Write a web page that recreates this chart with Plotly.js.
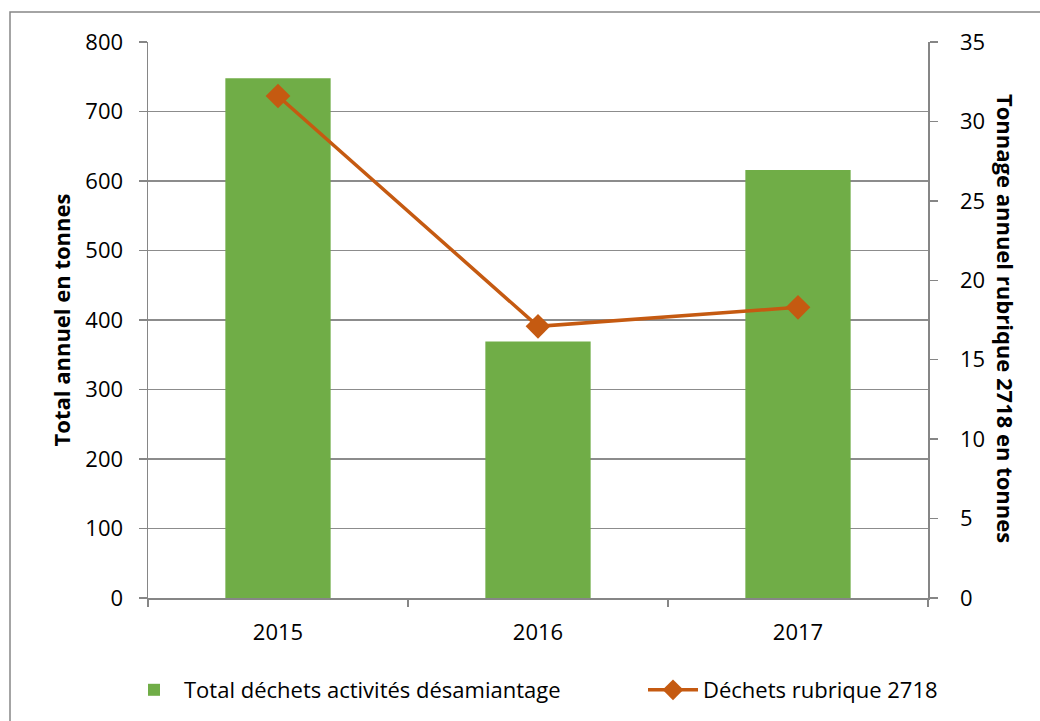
<!DOCTYPE html>
<html><head><meta charset="utf-8">
<script src="https://cdn.plot.ly/plotly-3.0.1.min.js"></script>
<style>html,body{margin:0;padding:0;background:#fff}#c{width:1040px;height:721px}</style>
</head><body><div id="c"></div>
<script>
const years = ['2015', '2016', '2017'];
const totalDesamiantage = [748, 369, 616];
const rubrique2718 = [31.6, 17.1, 18.3];
const leftTicks = [0, 100, 200, 300, 400, 500, 600, 700, 800];
const rightTicks = [0, 5, 10, 15, 20, 25, 30, 35];

const font = 'Open Sans, Liberation Sans, sans-serif';
const FS = 22;
const idx = years.map((_, i) => i);

const traces = [
  {type: 'bar', name: 'Total déchets activités désamiantage', x: idx, y: totalDesamiantage,
   marker: {color: '#70AD47'}, width: 0.405, xaxis: 'x', yaxis: 'y', legend: 'legend'},
  {type: 'scatter', mode: 'lines+markers', name: 'Déchets rubrique 2718', x: idx, y: rubrique2718,
   line: {color: '#C55A11', width: 3.5}, marker: {symbol: 'diamond', size: 19, color: '#C55A11'},
   xaxis: 'x', yaxis: 'y2', legend: 'legend2'}
];

const legendY = (598 - 690) / 556;
const layout = {
  width: 1040, height: 721,
  margin: {l: 148, r: 112, t: 42, b: 123, autoexpand: false},
  paper_bgcolor: '#fff', plot_bgcolor: '#fff',
  font: {family: font, size: FS, color: '#000'},
  showlegend: true,
  legend: {orientation: 'h', x: (124 - 148) / 780, xanchor: 'left', y: legendY, yanchor: 'middle',
           font: {size: FS}, itemwidth: 50},
  legend2: {orientation: 'h', x: (643 - 148) / 780, xanchor: 'left', y: legendY, yanchor: 'middle',
            font: {size: FS}, itemwidth: 50},
  xaxis: {range: [-0.5, 2.5], tickmode: 'array', tickvals: idx, ticktext: years,
          ticks: '', showgrid: false, zeroline: false, showline: true, linecolor: '#868686', linewidth: 1.5,
          tickfont: {size: FS}, ticklabelstandoff: 14},
  xaxis2: {overlaying: 'x', matches: 'x', range: [-0.5, 2.5], tickmode: 'array',
           tickvals: [-0.5, 0.5, 1.5, 2.5], showticklabels: false, ticks: 'outside', ticklen: 8,
           tickcolor: '#868686', tickwidth: 1.5, showgrid: false, zeroline: false, side: 'bottom', anchor: 'y'},
  yaxis: {range: [0, 800], tickmode: 'array', tickvals: leftTicks, ticks: 'outside', ticklen: 8,
          tickcolor: '#868686', tickwidth: 1.5, showline: true, linecolor: '#868686', linewidth: 1.5,
          gridcolor: '#8c8c8c', gridwidth: 1.5, zeroline: false, tickfont: {size: FS},
          ticklabelstandoff: 11,
          title: {text: '<b>Total annuel en tonnes</b>', font: {size: FS}, standoff: 8}},
  yaxis2: {range: [0, 35], overlaying: 'y', side: 'right', tickmode: 'array', tickvals: rightTicks,
           ticks: 'outside', ticklen: 8, tickcolor: '#868686', tickwidth: 1.5, showline: true,
           linecolor: '#868686', linewidth: 1.5, showgrid: false, zeroline: false, tickfont: {size: FS},
           ticklabelstandoff: 18},
  annotations: [{xref: 'paper', yref: 'paper', x: (1006 - 148) / 780, y: (598 - 318) / 556,
                 text: '<b>Tonnage annuel rubrique 2718 en tonnes</b>', textangle: 90,
                 showarrow: false, font: {size: FS}, xanchor: 'center', yanchor: 'middle'}],
  shapes: [{type: 'rect', xref: 'paper', yref: 'paper', layer: 'below',
            x0: (10 - 148) / 780, x1: (1060 - 148) / 780, y0: (598 - 740) / 556, y1: (598 - 12) / 556,
            line: {color: '#868686', width: 1.5}, fillcolor: 'rgba(0,0,0,0)'}]
};

// invisible trace to activate the secondary x axis used for category-boundary ticks
traces.push({type: 'scatter', x: [0], y: [0], xaxis: 'x2', yaxis: 'y', mode: 'markers',
             marker: {opacity: 0}, showlegend: false, hoverinfo: 'skip'});

Plotly.newPlot('c', traces, layout, {displayModeBar: false, staticPlot: true});
</script></body></html>
